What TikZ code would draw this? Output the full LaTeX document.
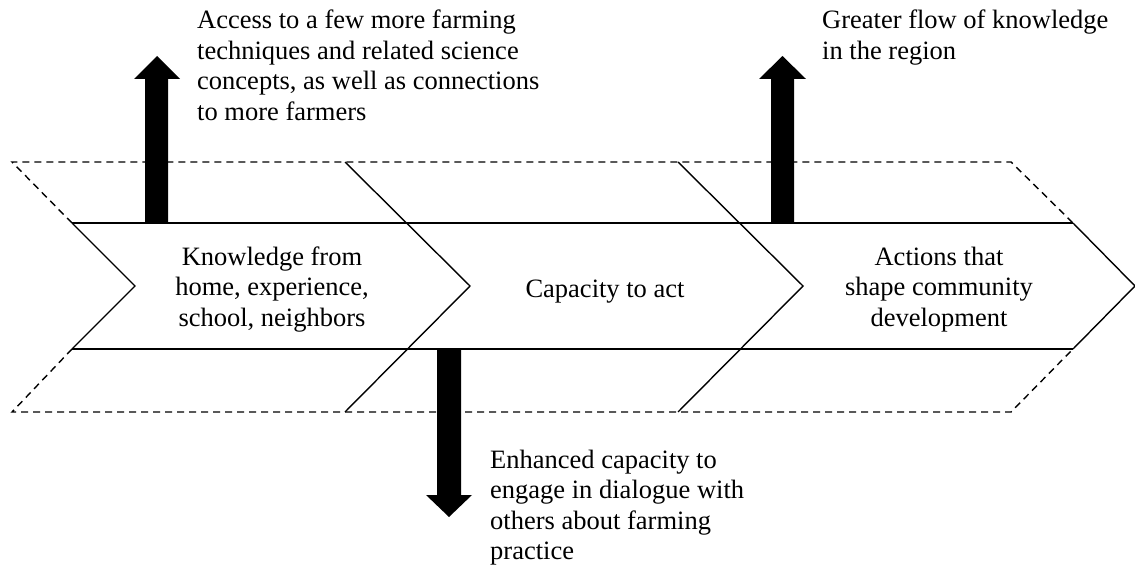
\documentclass[tikz,border=0pt]{standalone}
\usepackage{fontspec}
\setmainfont{Liberation Serif}
\begin{document}
\begin{tikzpicture}[x=1pt,y=-1pt,
  line/.style={line width=1.4pt, line join=miter},
  dashline/.style={line width=1.4pt, dash pattern=on 7pt off 5pt},
  blockarrow/.style={fill=black, draw=none},
  lbl/.style={inner sep=0pt, font=\fontsize{26.5}{30.5}\selectfont}]
\useasboundingbox (0,0) rectangle (1135,567);
\fill[white] (0,0) rectangle (1135,567);
% named corner coordinates
\coordinate (ot1) at (12,162);
\coordinate (ob1) at (12,412);
\coordinate (ot2) at (1011,162);
\coordinate (ob2) at (1011,412);
\coordinate (bl1) at (72,223);
\coordinate (bl2) at (72,349);
\coordinate (br1) at (1073,223);
\coordinate (br2) at (1073,349);
\coordinate (notch) at (135,286);
\coordinate (tip) at (1135,286);
\coordinate (d1t) at (345,162);
\coordinate (d1a) at (470,286);
\coordinate (d1b) at (345,412);
\coordinate (d2t) at (678,162);
\coordinate (d2a) at (803,286);
\coordinate (d2b) at (678,412);
% outer dashed outline
\draw[dashline] (bl1) -- (ot1) -- (ot2) -- (br1);
\draw[dashline] (bl2) -- (ob1) -- (ob2) -- (br2);
% inner band
\draw[line] (bl1) -- (br1);
\draw[line] (bl2) -- (br2);
\draw[line] (bl1) -- (notch) -- (bl2);
\draw[line] (br1) -- (tip) -- (br2);
% dividers
\draw[line] (d1t) -- (d1a) -- (d1b);
\draw[line] (d2t) -- (d2a) -- (d2b);
% block arrows
\fill[blockarrow] (145,223) -- (145,79) -- (134,79) -- (157,56) -- (180,79) -- (168,79) -- (168,223) -- cycle;
\fill[blockarrow] (771,223) -- (771,79) -- (759,79) -- (782.5,56) -- (806,79) -- (794,79) -- (794,223) -- cycle;
\fill[blockarrow] (437,349) -- (437,495) -- (426,495) -- (449,517) -- (472,495) -- (461,495) -- (461,349) -- cycle;
% labels
\node[lbl, anchor=base west] (t1) at (197,29) {\begin{tabular}[t]{@{}l@{}}Access to a few more farming\\techniques and related science\\concepts, as well as connections\\to more farmers\end{tabular}};
\node[lbl, anchor=base west] (t2) at (822,29) {\begin{tabular}[t]{@{}l@{}}Greater flow of knowledge\\in the region\end{tabular}};
\node[lbl, anchor=base west] (t3) at (490,468) {\begin{tabular}[t]{@{}l@{}}Enhanced capacity to\\engage in dialogue with\\others about farming\\practice\end{tabular}};
\node[lbl, anchor=base] (k) at (272,265) {\begin{tabular}[t]{@{}c@{}}Knowledge from\\home, experience,\\school, neighbors\end{tabular}};
\node[lbl, anchor=base] (c) at (605,297) {Capacity to act};
\node[lbl, anchor=base] (a) at (939,265) {\begin{tabular}[t]{@{}c@{}}Actions that\\shape community\\development\end{tabular}};
\end{tikzpicture}
\end{document}
